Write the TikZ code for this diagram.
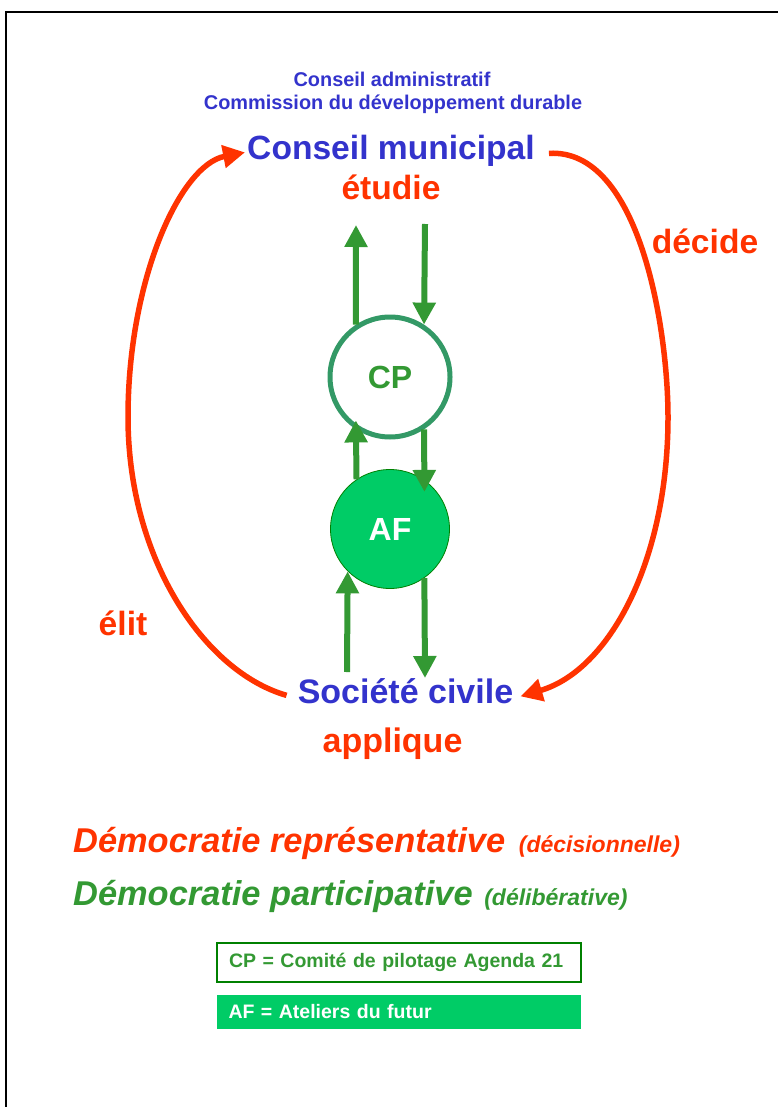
\documentclass[tikz,border=0pt]{standalone}
\usepackage{fontspec}
\setmainfont{Liberation Sans}
\usetikzlibrary{arrows.meta}

\definecolor{cmblue}{HTML}{3333CC}
\definecolor{cmred}{HTML}{FF3300}
\definecolor{cmgreen}{HTML}{339933}
\definecolor{cpring}{HTML}{339966}
\definecolor{afgreen}{HTML}{00CC66}
\definecolor{darkgreen}{HTML}{008000}

\newcommand{\fsz}[1]{\fontsize{#1}{#1}\selectfont}

\tikzset{
  bigtext/.style={font=\fsz{33.6}\bfseries, inner sep=2pt},
  smalltext/.style={font=\fsz{19.9}\bfseries, text=cmblue, inner sep=2pt},
  vote/.style={draw=cmred, line width=5.5pt, -{Triangle[length=22pt,width=22pt]}},
  flow/.style={draw=cmgreen, line width=6pt, -{Triangle[length=22pt,width=22pt]}},
  keybox/.style={text width=340pt, align=left, inner xsep=12pt, inner ysep=0pt,
    font=\fsz{19.5}\bfseries}
}

\begin{document}
\begin{tikzpicture}[x=1pt,y=-1pt]
  \useasboundingbox (0,0) rectangle (778,1107);
  %%%%%%%%%%%%%The frame%%%%%%%%%%%%%%%%%%%%%%
  \draw[line width=1.4pt] (6,1107) -- (6,12) -- (778,12);

  %%%%%%%%%%%%%The titles%%%%%%%%%%%%%%%%%%%%%%
  \node[smalltext, anchor=base] (admin) at (392,87) {Conseil administratif};
  \node[smalltext, anchor=base] (commission) at (393,110) {Commission du développement durable};
  \node[bigtext, text=cmblue, anchor=base] (cm) at (391,160) {Conseil municipal};
  \node[bigtext, text=cmred, anchor=base] (etudie) at (391,200) {étudie};
  \node[bigtext, text=cmred, anchor=base] (decide) at (705,253) {décide};
  \node[bigtext, text=cmred, anchor=base] (elit) at (123,635) {élit};
  \node[bigtext, text=cmblue, anchor=base, font=\fsz{34}\bfseries] (sc) at (405.5,703) {Société civile};
  \node[bigtext, text=cmred, anchor=base, font=\fsz{34}\bfseries] (applique) at (392.5,752) {applique};

  %%%%%%%%%%%%%The circles%%%%%%%%%%%%%%%%%%%%%%
  \node[circle, draw=cpring, line width=5pt, minimum size=120pt, text=cmgreen,
    font=\fsz{32}\bfseries] (cp) at (390,377) {CP};
  \node[circle, fill=afgreen, draw=darkgreen, line width=0.8pt, minimum size=119pt,
    text=white, font=\fsz{32}\bfseries] (af) at (390,529) {AF};

  %%%%%%%%%%%%%The red loop%%%%%%%%%%%%%%%%%%%%%%
  \draw[vote] ([xshift=12pt,yshift=4pt]cm.mid east) .. controls (640,148) and (668,330) .. (668,417)
    .. controls (668,560) and (610,670) .. ([xshift=5pt,yshift=4pt]sc.mid east);
  \draw[vote] ([xshift=-9pt,yshift=5pt]sc.mid west) .. controls (205,672) and (128,560) .. (128,417)
    .. controls (128,280) and (180,165) .. ([yshift=5pt]cm.mid west);

  %%%%%%%%%%%%%The green arrows%%%%%%%%%%%%%%%%%%%%%%
  \coordinate (topup) at (356,225);
  \coordinate (topdown) at (425,224);
  \coordinate (botup) at (347,672);
  \coordinate (botdown) at (425,678);
  \draw[flow] (cp.123) -- (topup);
  \draw[flow] (topdown) -- (cp.57);
  \draw[flow, shorten >=-9pt] (af.124) -- (cp.237);
  \draw[flow, shorten >=-12pt] (cp.-57) -- (af.55);
  \draw[flow] (botup) -- (af.225);
  \draw[flow] (af.-55) -- (botdown);

  %%%%%%%%%%%%%The two kinds of democracy%%%%%%%%%%%%%%%%%%%%%%
  \node[anchor=base west, inner sep=0pt, text=cmred, font=\fsz{34.4}\bfseries\itshape] (rep)
    at (73,852) {Démocratie représentative\hspace{4pt} {\fsz{23}(décisionnelle)}};
  \node[anchor=base west, inner sep=0pt, text=cmgreen, font=\fsz{34.4}\bfseries\itshape] (part)
    at (73,905) {Démocratie participative\hspace{2pt} {\fsz{23}(délibérative)}};

  %%%%%%%%%%%%%The key%%%%%%%%%%%%%%%%%%%%%%
  \node[keybox, draw=darkgreen, line width=2.7pt, text=cmgreen, minimum height=39pt] (cpkey)
    at (399,962.5) {CP = Comité de pilotage Agenda 21};
  \node[keybox, fill=afgreen, text=white, minimum height=34pt] (afkey)
    at (398.5,1012) {AF = Ateliers du futur};
\end{tikzpicture}
\end{document}
